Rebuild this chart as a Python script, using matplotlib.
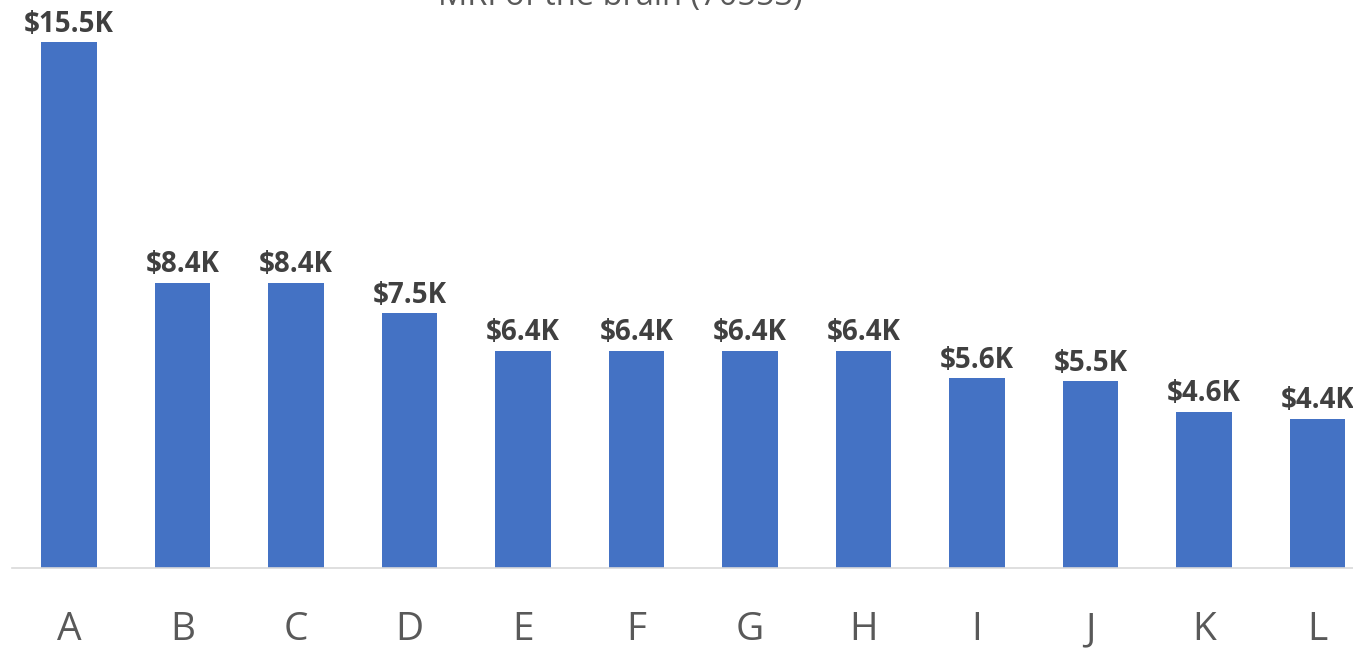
import matplotlib.pyplot as plt
import numpy as np

categories = ['A', 'B', 'C', 'D', 'E', 'F', 'G', 'H', 'I', 'J', 'K', 'L']
values = [15.5, 8.4, 8.4, 7.5, 6.4, 6.4, 6.4, 6.4, 5.6, 5.5, 4.6, 4.4]
title = 'MRI of the brain (70553)'

plt.rcParams['font.family'] = ['Open Sans', 'DejaVu Sans']

W, H = 1353, 648
fig = plt.figure(figsize=(W / 100, H / 100), dpi=100)

# axes in pixel terms: x=-0.5 at 12px, 113.5px per category, baseline at y=568
step = 113.5
left = 12.25
ax = fig.add_axes([left / W, 80 / H, step * 12 / W, 568 / H])

x = np.arange(len(categories))
ax.bar(x, values, width=0.49, color='#4472C4')
for xi, v in zip(x, values):
  ax.annotate('$' + format(v, '.1f') + 'K', (xi, v), xytext=(0, 7.5), textcoords='offset points',
              ha='center', va='baseline', fontsize=20, fontweight='bold', color='#404040')

ax.set_xlim(-0.5, 11.5)
ax.set_ylim(0, 568 / 33.94)
ax.set_xticks(x)
ax.set_xticklabels(categories, fontsize=28, color='#595959')
ax.tick_params(axis='x', length=0, pad=31)
ax.set_yticks([])
for s in ['top', 'right', 'left']:
  ax.spines[s].set_visible(False)
ax.spines['bottom'].set_color('#D9D9D9')
ax.spines['bottom'].set_linewidth(1.2)

# title sits mostly above the canvas, as in the source image
fig.text(620 / W, (H - 5) / H, title, ha='center', va='baseline', fontsize=23.5, color='#595959')

fig.savefig('out.png', dpi=100)
